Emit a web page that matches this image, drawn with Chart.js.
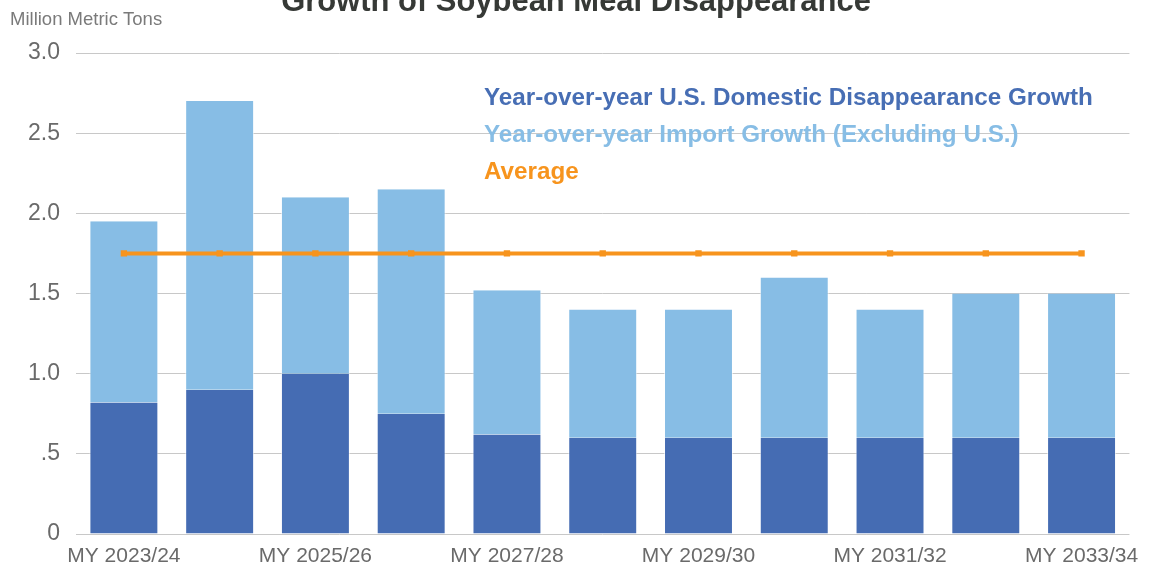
<!DOCTYPE html>
<html>
<head>
<meta charset="utf-8">
<script src="https://cdn.jsdelivr.net/npm/chart.js@4.4.1/dist/chart.umd.min.js"></script>
<style>
html,body{margin:0;padding:0;background:#fff;}
#wrap{width:1149px;height:570px;position:relative;}
</style>
</head>
<body>
<div id="wrap"><canvas id="c" width="1149" height="570"></canvas></div>
<script>
const categories = ["MY 2023/24","MY 2024/25","MY 2025/26","MY 2026/27","MY 2027/28","MY 2028/29","MY 2029/30","MY 2030/31","MY 2031/32","MY 2032/33","MY 2033/34"];
const domesticGrowth = [0.82, 0.90, 1.00, 0.75, 0.62, 0.60, 0.60, 0.60, 0.60, 0.60, 0.60];
const importGrowth   = [1.13, 1.80, 1.10, 1.40, 0.90, 0.80, 0.80, 1.00, 0.80, 0.90, 0.90];
const averageValues  = [1.75, 1.75, 1.75, 1.75, 1.75, 1.75, 1.75, 1.75, 1.75, 1.75, 1.75];
const yTickLabels = {0:"0",0.5:".5",1:"1.0",1.5:"1.5",2:"2.0",2.5:"2.5",3:"3.0"};
const titleText = "Growth of Soybean Meal Disappearance";
const unitText = "Million Metric Tons";

const FONT = "'Liberation Sans', Arial, Helvetica, sans-serif";

function fitFont(ctx, text, weight, width){
  let s = 30;
  ctx.font = weight + " " + s + "px " + FONT;
  const w = ctx.measureText(text).width;
  return s * width / w;
}

const overlay = {
  id: "overlay",
  afterDraw(chart){
    const ctx = chart.ctx;
    ctx.save();
    // title (partially cut off at top)
    const ts = fitFont(ctx, titleText, "bold", 590);
    ctx.font = "bold " + ts.toFixed(2) + "px " + FONT;
    ctx.fillStyle = "#363936";
    ctx.textAlign = "center";
    ctx.textBaseline = "alphabetic";
    ctx.fillText(titleText, 576, 11);
    // unit label
    ctx.font = "18.5px " + FONT;
    ctx.fillStyle = "#7a7a7a";
    ctx.textAlign = "left";
    ctx.fillText(unitText, 10, 25);
    // legend
    const ds = chart.data.datasets;
    const ls = fitFont(ctx, ds[0].label, "bold", 609);
    ctx.font = "bold " + ls.toFixed(2) + "px " + FONT;
    const ys = [105, 142, 179];
    [0,1,2].forEach((i, k) => {
      ctx.fillStyle = ds[i].legendColor;
      ctx.fillText(ds[i].label, 484, ys[k]);
    });
    ctx.restore();
  }
};

new Chart(document.getElementById("c"), {
  data: {
    labels: categories,
    datasets: [
      {
        type: "bar",
        label: "Year-over-year U.S. Domestic Disappearance Growth",
        data: domesticGrowth,
        backgroundColor: "#456cb3",
        legendColor: "#476eb4",
        borderColor: "rgba(255,255,255,0.6)",
        borderWidth: {left:1,right:1,top:0,bottom:0},
        stack: "s",
        order: 2,
        categoryPercentage: 0.8,
        barPercentage: 0.9
      },
      {
        type: "bar",
        label: "Year-over-year Import Growth (Excluding U.S.)",
        data: importGrowth,
        backgroundColor: "#87bde5",
        legendColor: "#87bde5",
        borderColor: "rgba(255,255,255,0.6)",
        borderWidth: {left:1,right:1,top:0,bottom:0},
        stack: "s",
        order: 2,
        categoryPercentage: 0.8,
        barPercentage: 0.9
      },
      {
        type: "line",
        label: "Average",
        data: averageValues,
        borderColor: "#f7941d",
        backgroundColor: "#f7941d",
        legendColor: "#f7941d",
        borderWidth: 4,
        pointStyle: "rect",
        pointRadius: 4.5,
        pointBorderWidth: 0,
        tension: 0,
        order: 1
      }
    ]
  },
  options: {
    responsive: false,
    animation: false,
    layout: { padding: { top: 53, right: 18, left: 0, bottom: 0 } },
    plugins: {
      legend: { display: false },
      title: { display: false },
      tooltip: { enabled: false }
    },
    scales: {
      x: {
        stacked: true,
        offset: true,
        grid: { display: false, drawTicks: false },
        border: { display: false },
        ticks: {
          autoSkip: false,
          maxRotation: 0,
          padding: 10,
          color: "#6a6a6a",
          font: { family: FONT, size: 21 },
          callback: function(v, i){ return i % 2 === 0 ? categories[i] : ""; }
        },
        afterFit: function(s){ s.height = 36; }
      },
      y: {
        stacked: true,
        min: 0,
        max: 3,
        grid: { color: "#c8c8c8", lineWidth: 1, drawTicks: false },
        border: { display: false },
        ticks: {
          stepSize: 0.5,
          padding: 16,
          color: "#6a6a6a",
          font: { family: FONT, size: 23 },
          callback: function(v){ return yTickLabels[v] !== undefined ? yTickLabels[v] : ""; }
        },
        afterFit: function(s){ s.width = 76; }
      }
    }
  },
  plugins: [overlay]
});
</script>
</body>
</html>
